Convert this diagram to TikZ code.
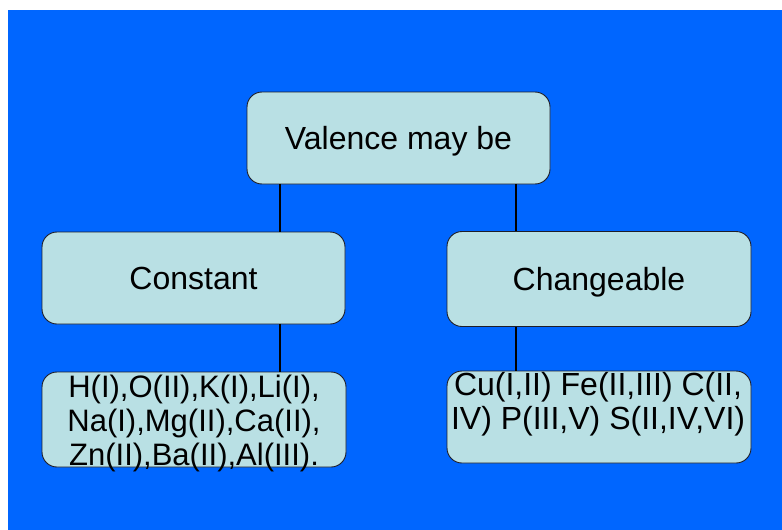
\documentclass[tikz,border=0pt]{standalone}
\usepackage{fontspec}
\setmainfont{Liberation Sans}
\definecolor{bgblue}{RGB}{0,102,255}
\definecolor{boxfill}{RGB}{185,224,228}
\definecolor{boxline}{RGB}{30,30,40}
\begin{document}
\begin{tikzpicture}[x=1pt,y=-1pt,
  box/.style={draw=boxline, line width=0.9pt, fill=boxfill, rounded corners=15pt, inner sep=0pt},
  head/.style={box, font=\fontsize{32}{34}\selectfont, text height=23pt, text depth=0pt},
  txt/.style={inner sep=0pt, align=center, text=black},
  link/.style={draw=black, line width=2pt}]
\useasboundingbox (0,0) rectangle (782,530);
\fill[bgblue] (8,10) rectangle (782,530);
% boxes
\node[head, minimum width=303pt, minimum height=92pt] (top) at (398.5,138) {Valence may be};
\node[head, minimum width=303pt, minimum height=92pt] (cons) at (193.5,278) {Constant};
\node[head, minimum width=304pt, minimum height=95pt] (chg) at (599,279) {Changeable};
\node[box, minimum width=304pt, minimum height=95pt] (bl) at (194,419.5) {};
\node[box, minimum width=304pt, minimum height=92pt] (br) at (599,417) {};
% texts of the lower boxes
\node[txt, font=\fontsize{31}{34}\selectfont] (bltxt) at (194,423)
  {H(I),O(II),K(I),Li(I),\\Na(I),Mg(II),Ca(II),\\Zn(II),Ba(II),Al(III).};
\node[txt, font=\fontsize{32}{34}\selectfont] (brtxt) at (598,404)
  {Cu(I,II) Fe(II,III) C(II,\\IV) P(III,V) S(II,IV,VI)};
% connectors
\coordinate (lx) at (280,0);
\coordinate (rx) at (516,0);
\draw[link] (top.south -| lx) -- (cons.north -| lx);
\draw[link] (top.south -| rx) -- (chg.north -| rx);
\draw[link] (cons.south -| lx) -- (bl.north -| lx);
\draw[link] (chg.south -| rx) -- (br.north -| rx);
\end{tikzpicture}
\end{document}
